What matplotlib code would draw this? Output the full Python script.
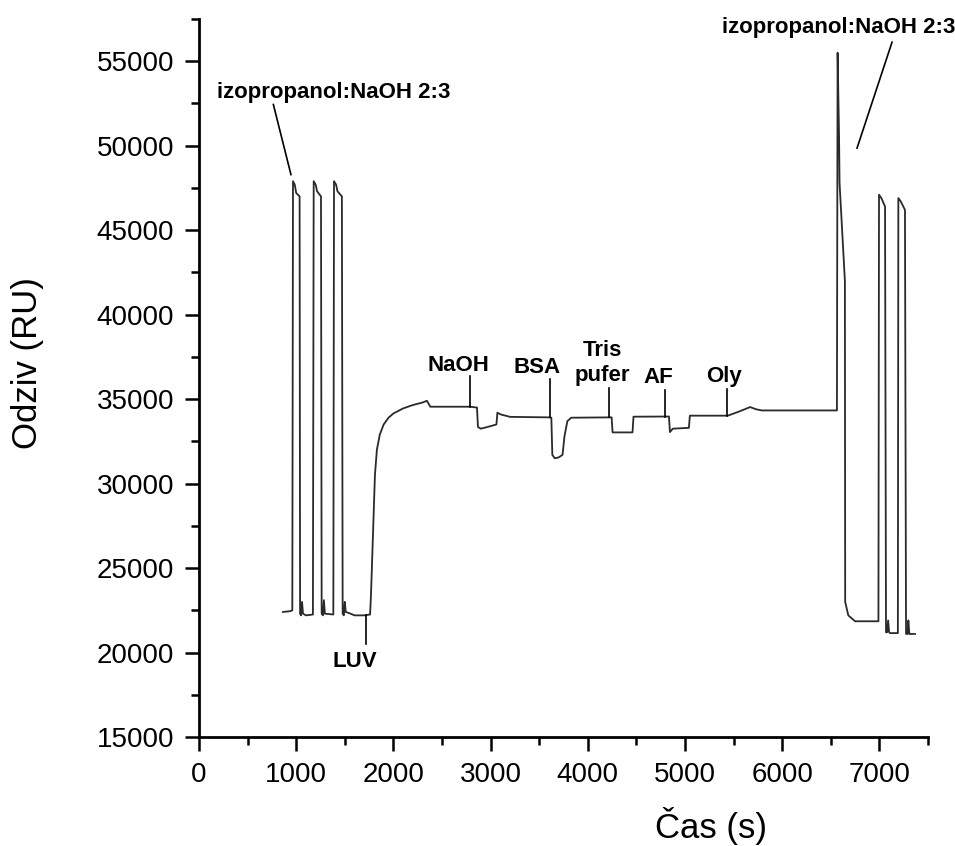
import matplotlib
matplotlib.use("Agg")
import matplotlib.pyplot as plt
from matplotlib.ticker import MultipleLocator

plt.rcParams['font.family'] = ['Liberation Sans', 'DejaVu Sans']

# ---- data (time in s, response in RU) ----
time_s = [864, 940, 960,
          967, 985, 1000, 1035, 1040, 1050, 1060, 1070, 1100, 1172,
          1180, 1200, 1215, 1255, 1262, 1275, 1285, 1295, 1382,
          1389, 1410, 1425, 1470, 1478, 1490, 1500, 1510, 1560, 1600, 1700, 1760,
          1770, 1790, 1810, 1830, 1860, 1900, 1950, 2000, 2100, 2200, 2300, 2345, 2380, 2790, 2860,
          2870, 2900, 3000, 3060, 3070, 3100, 3200, 3600, 3625,
          3635, 3660, 3700, 3740, 3760, 3790, 3830, 4245,
          4255, 4460, 4470, 4835,
          4845, 4875, 5040, 5050, 5440, 5550, 5670, 5730, 5790, 6563,
          6570, 6585, 6590, 6645, 6648, 6680, 6750, 6990,
          6996, 7020, 7058, 7068, 7080, 7090, 7100, 7110, 7190,
          7195, 7220, 7263, 7274, 7290, 7298, 7308, 7366]
response_ru = [22400, 22450, 22500,
               47900, 47700, 47200, 47000, 22300, 22200, 23000, 22300, 22200, 22250,
               47900, 47700, 47300, 47000, 22300, 22200, 23100, 22300, 22250,
               47900, 47700, 47300, 47000, 22300, 22200, 23000, 22400, 22300, 22200, 22200, 22250,
               23500, 27000, 30500, 32000, 32900, 33500, 33900, 34150, 34450, 34650, 34800, 34900, 34550, 34550, 34500,
               33350, 33250, 33400, 33500, 34200, 34100, 33950, 33920, 33900,
               31700, 31500, 31550, 31700, 32800, 33700, 33900, 33920,
               33030, 33030, 33960, 33970,
               33050, 33250, 33300, 34020, 34020, 34250, 34530, 34400, 34330, 34330,
               55500, 50500, 47800, 42000, 23000, 22200, 21850, 21850,
               47100, 46900, 46400, 21200, 21200, 21900, 21200, 21150, 21150,
               46900, 46700, 46200, 21100, 21100, 21900, 21100, 21100]

# annotations: label, text position, marker line (x, y_from, y_to)
marker_labels = ["LUV", "NaOH", "BSA", "Tris\npufer", "AF", "Oly"]
marker_text_x = [1605, 2665, 3477, 4146, 4722, 5401]
marker_text_y = [19450, 37000, 36860, 37125, 36270, 36330]
marker_line_x = [1718, 2788, 3611, 4218, 4794, 5429]
marker_line_y0 = [22200, 34550, 33920, 33920, 33970, 34020]
marker_line_y1 = [20500, 36390, 36210, 35675, 35560, 35620]

regen_label = "izopropanol:NaOH 2:3"
regen_text_xy = [(1389, 53150), (6580, 57000)]
regen_line = [((765, 52440), (946, 48290)), ((7130, 56130), (6770, 49860))]

x_ticks = [0, 1000, 2000, 3000, 4000, 5000, 6000, 7000]
y_ticks = [15000, 20000, 25000, 30000, 35000, 40000, 45000, 50000, 55000]

W, H = 955, 846
fig = plt.figure(figsize=(W / 100, H / 100), dpi=100)
ax = fig.add_axes([199 / W, 1 - 737 / H, (928 - 199) / W, (737 - 19) / H])

ax.plot(time_s, response_ru, color='#2a2a2a', lw=1.3)

ax.set_xlim(0, 7500)
ax.set_ylim(15000, 57500)
ax.set_xticks(x_ticks)
ax.set_yticks(y_ticks)
ax.xaxis.set_minor_locator(MultipleLocator(500))
ax.yaxis.set_minor_locator(MultipleLocator(2500))
for s in ['top', 'right']:
    ax.spines[s].set_visible(False)
for s in ['left', 'bottom']:
    ax.spines[s].set_linewidth(2.0)
ax.tick_params(which='major', direction='out', length=10, width=1.8, labelsize=20, pad=8)
ax.tick_params(which='minor', direction='out', length=5.5, width=1.8)

for lab, tx, ty, lx, ly0, ly1 in zip(marker_labels, marker_text_x, marker_text_y,
                                      marker_line_x, marker_line_y0, marker_line_y1):
    ax.plot([lx, lx], [ly0, ly1], color='black', lw=1.2)
    ax.text(tx, ty, lab, ha='center', va='center', fontsize=16, fontweight='bold',
            linespacing=1.25)

for (tx, ty), ((x0, y0), (x1, y1)) in zip(regen_text_xy, regen_line):
    ax.text(tx, ty, regen_label, ha='center', va='center', fontsize=16,
            fontweight='bold', clip_on=False)
    ax.plot([x0, x1], [y0, y1], color='black', lw=1.2, clip_on=False)

fig.text(27 / W, 1 - 363 / H, "Odziv (RU)", rotation=90, ha='center', va='center', fontsize=25)
fig.text(711 / W, 1 - 826 / H, "Čas (s)", ha='center', va='center', fontsize=25)

fig.savefig("out.png", dpi=100)
